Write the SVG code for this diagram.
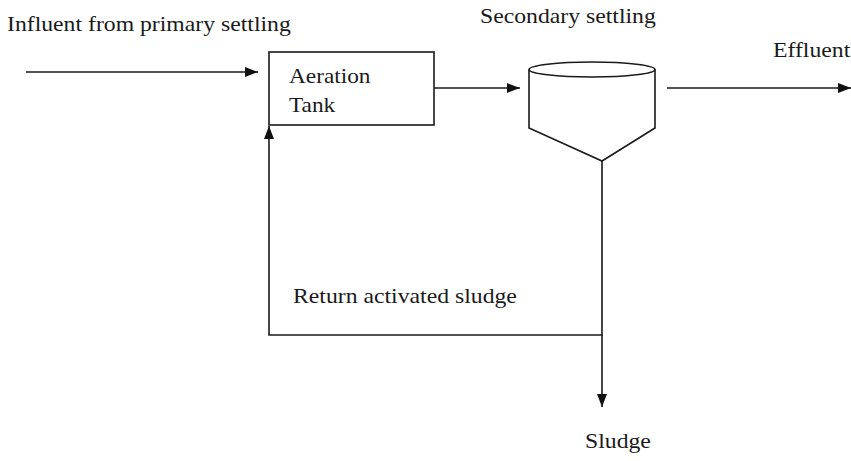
<svg xmlns="http://www.w3.org/2000/svg" width="851" height="461" viewBox="0 0 851 461">
  <defs>
    <marker id="ah" viewBox="0 0 13 10" refX="13" refY="5" markerWidth="13" markerHeight="10" markerUnits="userSpaceOnUse" orient="auto">
      <path d="M0,0 L13,5 L0,10 Z" fill="#111"/>
    </marker>
  </defs>
  <rect width="851" height="461" fill="#ffffff"/>

  <!-- shared line look: thin dark strokes, no fill -->
  <g fill="none" stroke="#1a1a1a" stroke-width="1.6">
    <!-- aeration tank -->
    <g id="aeration-tank">
      <rect x="269" y="52" width="165" height="73"/>
    </g>

    <!-- secondary clarifier: cylinder with conical hopper -->
    <g id="secondary-settling">
      <path d="M529,69.5 L529,128 L602,161 L655,128 L655,69.5"/>
      <ellipse cx="592" cy="69.5" rx="63" ry="7.5"/>
    </g>

    <!-- flows -->
    <g id="connectors">
      <line x1="26" y1="72" x2="258" y2="72" marker-end="url(#ah)"/>
      <line x1="434" y1="88" x2="520" y2="88" marker-end="url(#ah)"/>
      <line x1="667" y1="88" x2="851" y2="88" marker-end="url(#ah)"/>
      <path d="M602,161 L602,335 L269,335 L269,126" marker-end="url(#ah)"/>
      <line x1="602" y1="335" x2="602" y2="407" marker-end="url(#ah)"/>
    </g>
  </g>

  <!-- shared label look: serif type, set slightly wide via a horizontal scale -->
  <g font-family="Liberation Serif" font-size="21" fill="#1a1a1a">
    <text transform="translate(7,31) scale(1.13,1)">Influent from primary settling</text>
    <text transform="translate(480,23) scale(1.13,1)">Secondary settling</text>
    <text transform="translate(773,57) scale(1.13,1)">Effluent</text>
    <text transform="translate(293,303) scale(1.13,1)">Return activated sludge</text>
    <text transform="translate(585,448) scale(1.13,1)">Sludge</text>
    <g id="aeration-tank-label">
      <text transform="translate(289,83) scale(1.11,1)">Aeration</text>
      <text transform="translate(289,112) scale(1.11,1)">Tank</text>
    </g>
  </g>
</svg>
